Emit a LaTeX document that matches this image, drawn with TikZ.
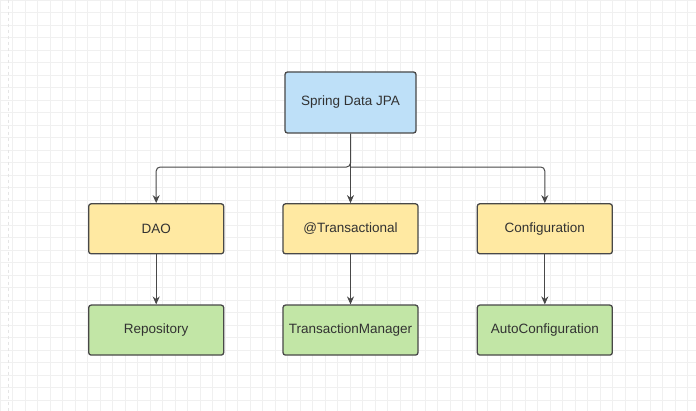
\documentclass[tikz,border=0pt]{standalone}
\usepackage{fontspec}
\setmainfont{Liberation Sans}
\usetikzlibrary{arrows.meta, positioning, calc}

\definecolor{jpablue}{RGB}{190,224,248}
\definecolor{layeryellow}{RGB}{255,233,162}
\definecolor{implgreen}{RGB}{194,230,166}
\definecolor{edgegray}{RGB}{72,72,72}
\definecolor{textgray}{RGB}{50,50,50}

\tikzset{
  box/.style={rectangle, rounded corners=2.5pt, draw=edgegray, line width=1.3pt, align=center,
    minimum width=135pt, minimum height=50pt, text=textgray,
    font=\fontsize{13.5}{16}\selectfont},
  link/.style={draw=edgegray, line width=1pt, rounded corners=4pt, -{Stealth[length=8pt,width=7pt]}}
}

\begin{document}
\begin{tikzpicture}[x=1pt, y=-1pt, node distance=50pt and 58pt]
\useasboundingbox (0,0) rectangle (696,411);
\fill[white] (0,0) rectangle (696,411);
\draw[black!6, line width=0.6pt, step=12.5pt] (0,0) grid (696,411);
\draw[black!10, dashed, line width=0.6pt] (8,0) -- (8,411);

\node (jpa) [box, fill=jpablue, minimum width=131pt, minimum height=61pt] at (350.5,102.5) {Spring Data JPA};
\node (trans) [box, fill=layeryellow, below=69.5pt of jpa] {@Transactional};
\node (dao) [box, fill=layeryellow, left=of trans] {DAO};
\node (config) [box, fill=layeryellow, right=of trans] {Configuration};
\node (txmgr) [box, fill=implgreen, below=of trans] {TransactionManager};
\node (repo) [box, fill=implgreen, below=of dao] {Repository};
\node (autoconf) [box, fill=implgreen, below=of config] {AutoConfiguration};

\coordinate (bus) at ($(jpa.south)!0.48!(trans.north)$);
\draw [link] (jpa.south) -- (bus) -| (dao.north);
\draw [link] (bus) -| (config.north);
\draw [link] (jpa.south) -- (trans.north);
\draw [link] (dao) -- (repo);
\draw [link] (trans) -- (txmgr);
\draw [link] (config) -- (autoconf);
\end{tikzpicture}
\end{document}
